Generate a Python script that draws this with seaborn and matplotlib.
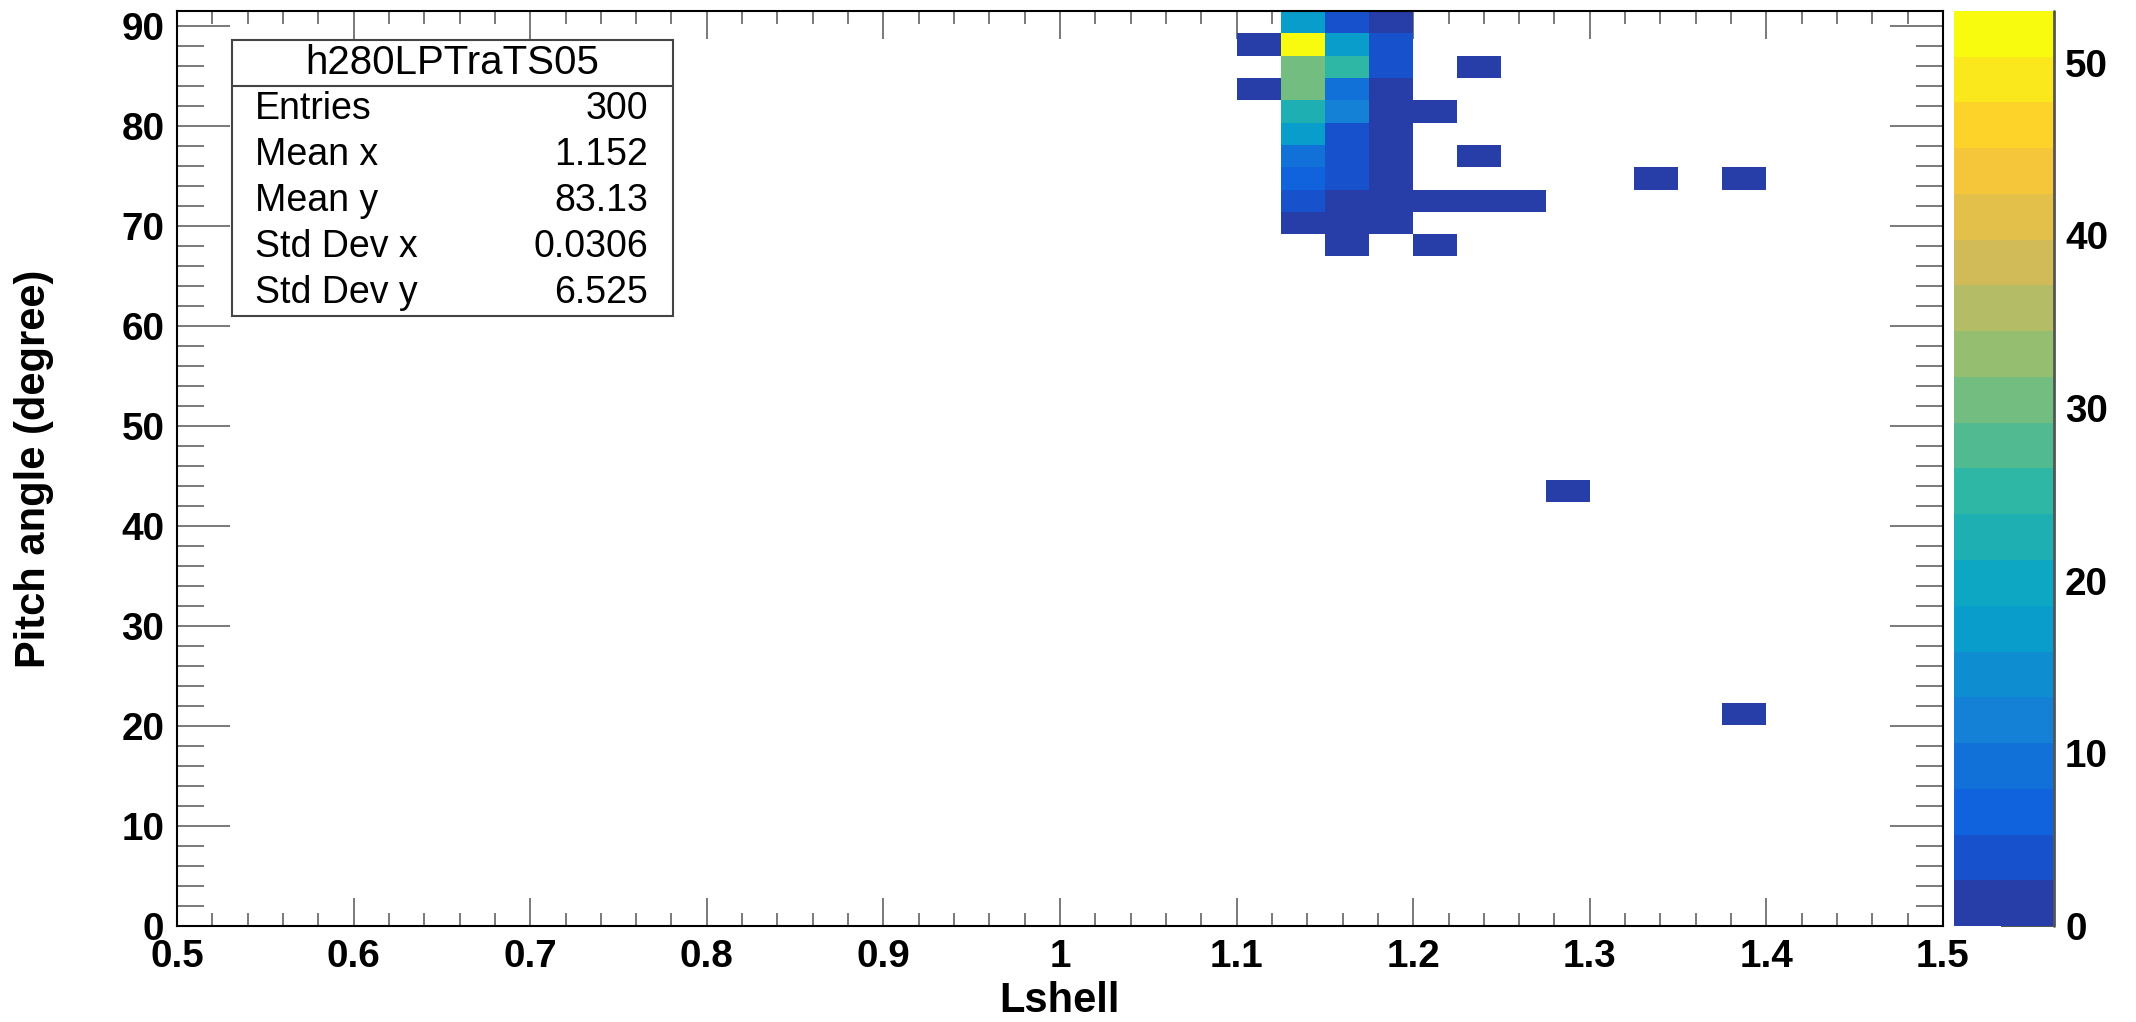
import numpy as np
import pandas as pd
import matplotlib
matplotlib.use("Agg")
import matplotlib.pyplot as plt
from matplotlib.colors import LinearSegmentedColormap, ListedColormap
from matplotlib.patches import Rectangle
from matplotlib.lines import Line2D
from matplotlib.ticker import FixedLocator, MultipleLocator, FixedFormatter
import seaborn as sns

# ---------------- data (bin centres and bin contents) ----------------
lshell = [1.1375, 1.1625, 1.1875,
          1.1125, 1.1375, 1.1625, 1.1875,
          1.1375, 1.1625, 1.1875, 1.2375,
          1.1125, 1.1375, 1.1625, 1.1875,
          1.1375, 1.1625, 1.1875, 1.2125,
          1.1375, 1.1625, 1.1875,
          1.1375, 1.1625, 1.1875, 1.2375,
          1.1375, 1.1625, 1.1875, 1.3375, 1.3875,
          1.1375, 1.1625, 1.1875, 1.2125, 1.2375, 1.2625,
          1.1375, 1.1625, 1.1875,
          1.1625, 1.2125,
          1.2875,
          1.3875]
pitch = [90.4, 90.4, 90.4,
         88.2, 88.2, 88.2, 88.2,
         85.9, 85.9, 85.9, 85.9,
         83.7, 83.7, 83.7, 83.7,
         81.5, 81.5, 81.5, 81.5,
         79.2, 79.2, 79.2,
         77.0, 77.0, 77.0, 77.0,
         74.8, 74.8, 74.8, 74.8, 74.8,
         72.5, 72.5, 72.5, 72.5, 72.5, 72.5,
         70.3, 70.3, 70.3,
         68.1, 68.1,
         43.5,
         21.2]
counts = [16, 3, 2,
          1, 53, 16, 3,
          30, 24, 3, 1,
          1, 30, 8, 2,
          22, 11, 2, 1,
          16, 3, 2,
          10, 3, 2, 1,
          7, 3, 2, 1, 1,
          3, 2, 2, 1, 1, 1,
          2, 2, 2,
          1, 1,
          1,
          1]

x_tick_values = [0.5, 0.6, 0.7, 0.8, 0.9, 1.0, 1.1, 1.2, 1.3, 1.4, 1.5]
x_tick_labels = ["0.5", "0.6", "0.7", "0.8", "0.9", "1", "1.1", "1.2", "1.3", "1.4", "1.5"]
y_tick_values = [0, 10, 20, 30, 40, 50, 60, 70, 80, 90]
z_tick_values = [0, 10, 20, 30, 40, 50]

stats_title = "h280LPTraTS05"
stats_names = ["Entries", "Mean x", "Mean y", "Std Dev x", "Std Dev y"]
stats_values = ["300", "1.152", "83.13", "0.0306", "6.525"]

x_label = "Lshell"
y_label = "Pitch angle (degree)"

# ---------------- style ----------------
sns.set_theme(style="white")
plt.rcParams['font.family'] = ['Liberation Sans', 'DejaVu Sans']
plt.rcParams['font.weight'] = 'bold'
plt.rcParams['axes.labelweight'] = 'bold'
plt.rcParams['text.color'] = 'black'
plt.rcParams['axes.labelcolor'] = 'black'
plt.rcParams['xtick.labelcolor'] = 'black'
plt.rcParams['ytick.labelcolor'] = 'black'

W, H = 2136, 1022
fig = plt.figure(figsize=(W / 100, H / 100), dpi=100)
ax = fig.add_axes([177 / W, 1 - 926 / H, 1766 / W, 915 / H])
cax = fig.add_axes([1954 / W, 1 - 926 / H, 100 / W, 915 / H])

# ROOT kBird palette, sampled into 20 contour bands
stops = [0.0, 0.125, 0.25, 0.375, 0.5, 0.625, 0.75, 0.875, 1.0]
red = [0.2082, 0.0592, 0.0780, 0.0232, 0.1802, 0.5301, 0.8186, 0.9956, 0.9764]
green = [0.1664, 0.3599, 0.5041, 0.6419, 0.7178, 0.7492, 0.7328, 0.7862, 0.9832]
blue = [0.5293, 0.8684, 0.8385, 0.7914, 0.6425, 0.4662, 0.3499, 0.1968, 0.0539]
bird = LinearSegmentedColormap.from_list(
    "bird", list(zip(stops, zip(red, green, blue))), N=255)
ncont = 20
band_colors = [bird(min(int((i + 0.99) * 255 / ncont), 254)) for i in range(ncont)]
cmap = ListedColormap(band_colors)
zmax = 53.0

xedges = np.linspace(0.5, 1.5, 41)
yedges = np.linspace(0.0, 91.5, 42)

df = pd.DataFrame({"Lshell": lshell, "Pitch": pitch, "counts": counts})
sns.histplot(data=df, x="Lshell", y="Pitch", weights="counts",
             bins=[xedges, yedges], cmap=cmap, vmin=0, vmax=zmax,
             cbar=True, cbar_ax=cax, ax=ax, linewidth=0)

ax.set_xlim(0.5, 1.5)
ax.set_ylim(0, 91.5)
ax.set_facecolor("white")

ax.xaxis.set_major_locator(FixedLocator(x_tick_values))
ax.xaxis.set_major_formatter(FixedFormatter(x_tick_labels))
ax.xaxis.set_minor_locator(MultipleLocator(0.02))
ax.yaxis.set_major_locator(FixedLocator(y_tick_values))
ax.yaxis.set_minor_locator(MultipleLocator(2))

tick_col = "#555555"
ax.tick_params(axis="x", which="major", direction="in", length=20, width=1.1,
               color=tick_col, top=True, bottom=True, labelsize=27.8, pad=9,
               labelcolor="black")
ax.tick_params(axis="x", which="minor", direction="in", length=9.4, width=1.1,
               color=tick_col, top=True, bottom=True)
ax.tick_params(axis="y", which="major", direction="in", length=38, width=1.1,
               color=tick_col, left=True, right=True, labelsize=27.8, pad=9,
               labelcolor="black")
ax.tick_params(axis="y", which="minor", direction="in", length=19.4, width=1.1,
               color=tick_col, left=True, right=True)
for s in ax.spines.values():
    s.set_visible(True)
    s.set_color("black")
    s.set_linewidth(1.5)

ax.set_xlabel(x_label, fontsize=30, fontweight="bold", color="black")
ax.set_ylabel(y_label, fontsize=30, fontweight="bold", color="black")
ax.xaxis.label.set_va("center")
ax.yaxis.label.set_va("center")
ax.xaxis.set_label_coords(0.5, (926 - 1001) / 915)
ax.yaxis.set_label_coords((34 - 177) / 1766, 0.5)

# ---------------- statistics box ----------------
bx0, bx1 = (232 - 177) / 1766, (673 - 177) / 1766
by0, by1 = (926 - 316) / 915, (926 - 40) / 915
bsep = (926 - 86) / 915
ax.add_patch(Rectangle((bx0, by0), bx1 - bx0, by1 - by0, transform=ax.transAxes,
                       facecolor="white", edgecolor="#444444", linewidth=1.5,
                       zorder=5, clip_on=False))
ax.add_line(Line2D([bx0, bx1], [bsep, bsep], transform=ax.transAxes,
                   color="#444444", linewidth=1.5, zorder=6, clip_on=False))
ax.text((bx0 + bx1) / 2, (926 - 63) / 915, stats_title, transform=ax.transAxes,
        ha="center", va="center", fontsize=29, fontweight="normal", zorder=7)
row_y = [109, 155, 201, 247, 293]
for name, val, yy in zip(stats_names, stats_values, row_y):
    ax.text((255 - 177) / 1766, (926 - yy) / 915, name, transform=ax.transAxes,
            ha="left", va="center", fontsize=27, fontweight="normal", zorder=7)
    ax.text((648 - 177) / 1766, (926 - yy) / 915, val, transform=ax.transAxes,
            ha="right", va="center", fontsize=27, fontweight="normal", zorder=7)

# ---------------- colour bar ----------------
cbar = ax.collections[0].colorbar
cbar.outline.set_visible(False)
cbar.set_ticks(z_tick_values)
cbar.minorticks_off()
cax.tick_params(axis="y", which="major", direction="in", length=38, width=1.2,
                color="#333333", labelsize=27.8, pad=8, right=True, left=False,
                labelcolor="black")
cax.add_line(Line2D([1, 1], [0, 1], transform=cax.transAxes, color="#555555",
                    linewidth=2, clip_on=False, zorder=10))

fig.savefig("out.png", dpi=100, facecolor="white")
